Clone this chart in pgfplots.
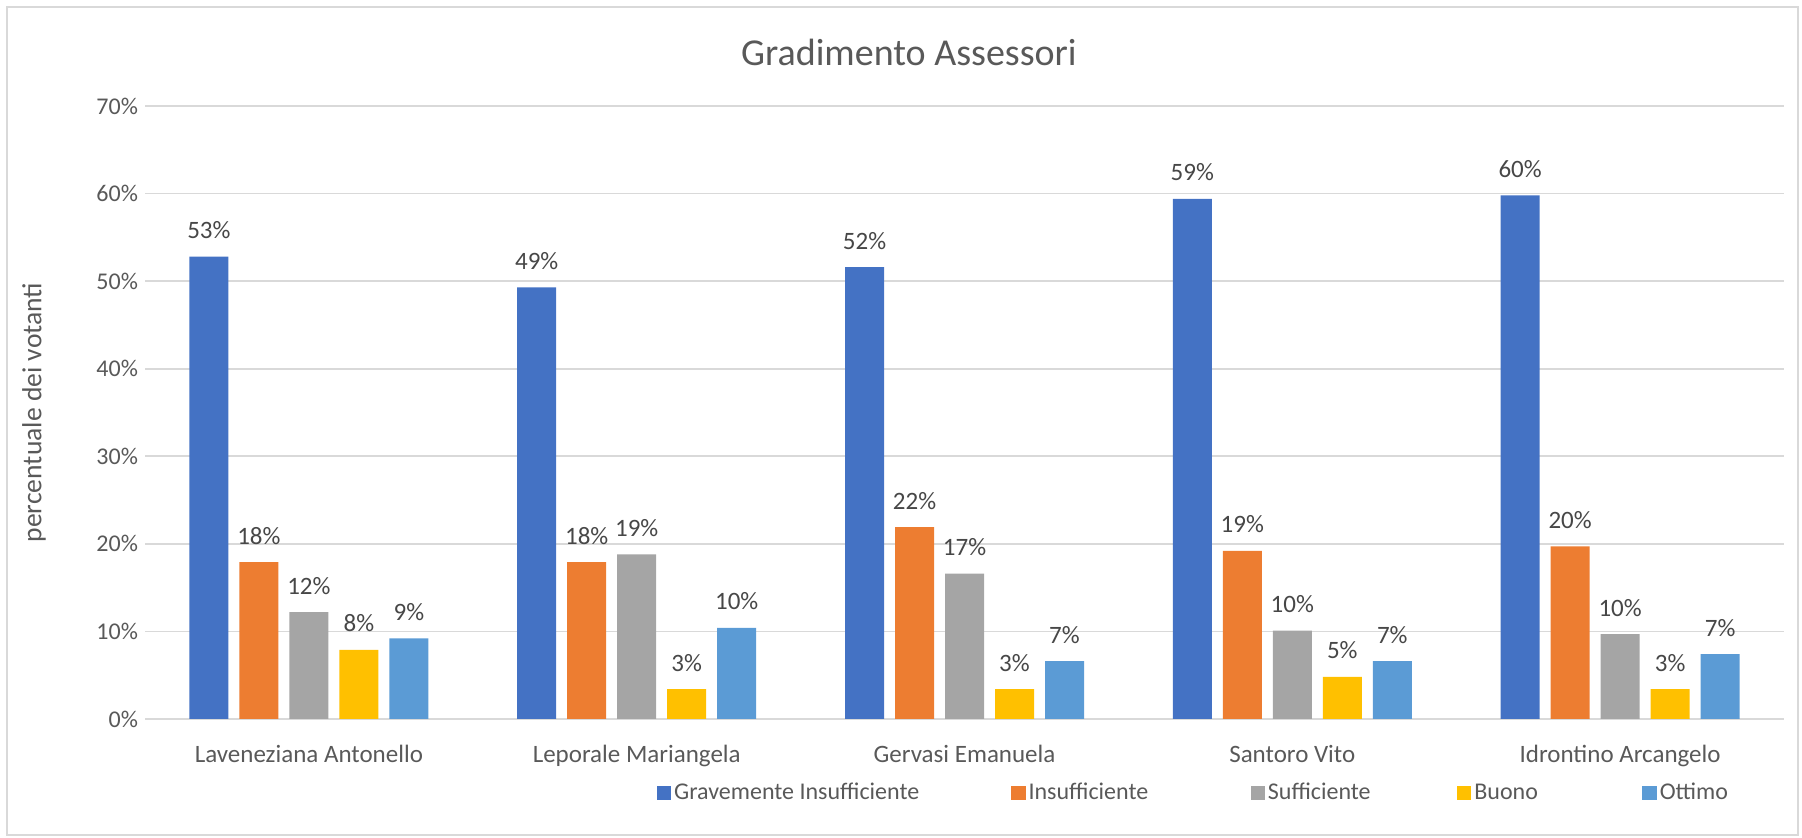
\documentclass[border=0pt]{standalone}
\usepackage{fontspec}
\setmainfont{Carlito}
\usepackage{pgfplots}
\pgfplotsset{compat=1.18}
\definecolor{cA}{HTML}{4472C4}
\definecolor{cB}{HTML}{ED7D31}
\definecolor{cC}{HTML}{A5A5A5}
\definecolor{cD}{HTML}{FFC000}
\definecolor{cE}{HTML}{5B9BD5}
\definecolor{txt}{HTML}{595959}
\definecolor{grd}{HTML}{D9D9D9}
\newcommand\lab{\fontsize{12pt}{14pt}\selectfont}
\newcommand\xlab{\fontsize{12.5pt}{14.5pt}\selectfont}
\newcommand\leg{\fontsize{12pt}{14pt}\selectfont}
\begin{document}
\begin{tikzpicture}
\path[use as bounding box] (0,0) rectangle (901pt,419pt);
\draw[grd, line width=0.8pt] (3.5pt,1.5pt) rectangle (899pt,415.5pt);
\begin{axis}[
  at={(72.5pt,59.5pt)}, anchor=south west,
  scale only axis, width=819.5pt, height=306.5pt,
  ybar=5.5pt, bar width=19.5pt,
  xmin=-0.5, xmax=4.5, ymin=0, ymax=70,
  xtick={0,1,2,3,4},
  xticklabels={Laveneziana Antonello, Leporale Mariangela, Gervasi Emanuela, Santoro Vito, Idrontino Arcangelo},
  x tick label style={font=\xlab, text=txt, anchor=base, yshift=-17.5pt},
  major x tick style={draw=none},
  extra x ticks={-0.5,0.5,1.5,2.5,3.5,4.5},
  extra x tick labels={},
  extra x tick style={major tick length=4.5pt, tick align=outside, grid=none, major tick style={draw=grd, line width=0.8pt}},
  ytick={0,10,...,70},
  yticklabel={\pgfmathprintnumber{\tick}\%},
  y tick label style={font=\lab, text=txt},
  ytick style={draw=none},
  ymajorgrids, grid style={grd, line width=0.8pt},
  axis x line*=bottom, axis y line*=left,
  x axis line style={draw=grd, line width=0.8pt, -},
  y axis line style={draw=none},
  /pgf/number format/assume math mode=true,
  ylabel={percentuale dei votanti},
  ylabel style={font=\fontsize{13.8pt}{16pt}\selectfont, text=txt, at={(axis description cs:-0.0677,0.5)}, anchor=center},
  title={Gradimento Assessori},
  title style={font=\fontsize{19pt}{22pt}\selectfont, text=txt, at={(axis description cs:0.4661,1)}, anchor=center, yshift=21pt},
  nodes near coords={\pgfmathprintnumber[fixed,precision=0]{\pgfplotspointmeta}\%},
  nodes near coords style={font=\xlab, text=txt!80!black, anchor=base, inner sep=0pt, yshift=9pt},
  legend columns=5,
  legend style={draw=none, fill=none, inner sep=0pt, at={(axis description cs:0.312,0)}, anchor=west, yshift=-37pt, font=\leg, text=txt,
    nodes={inner sep=1.5pt},
    /tikz/every even column/.append style={column sep=0pt}},
  legend image code/.code={\fill[#1] (0pt,-3.6pt) rectangle (7.2pt,3.6pt);},
]
\addplot[fill=cA, draw=none] coordinates {(0,52.8) (1,49.3) (2,51.6) (3,59.4) (4,59.8)};
\addplot[fill=cB, draw=none] coordinates {(0,17.9) (1,17.9) (2,21.9) (3,19.2) (4,19.7)};
\addplot[fill=cC, draw=none] coordinates {(0,12.2) (1,18.8) (2,16.6) (3,10.1) (4,9.7)};
\addplot[fill=cD, draw=none] coordinates {(0,7.9) (1,3.4) (2,3.4) (3,4.8) (4,3.4)};
\addplot[fill=cE, draw=none] coordinates {(0,9.2) (1,10.4) (2,6.6) (3,6.6) (4,7.4)};
\legend{\makebox[167pt][l]{Gravemente Insufficiente}, \makebox[109.5pt][l]{Insufficiente}, \makebox[93pt][l]{Sufficiente}, \makebox[82.5pt][l]{Buono}, Ottimo}
\end{axis}
\end{tikzpicture}
\end{document}
